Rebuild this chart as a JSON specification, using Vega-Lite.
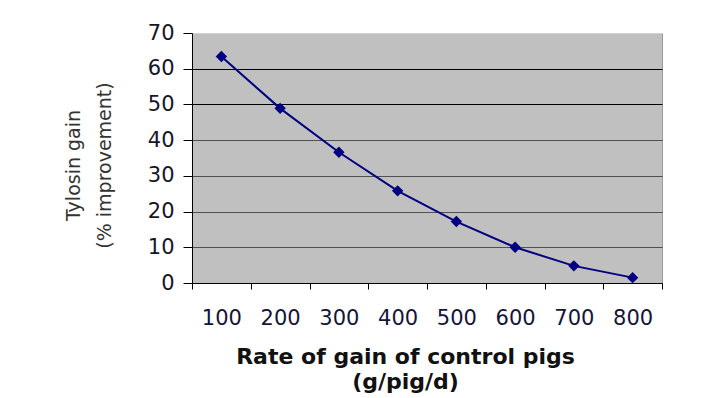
{
  "$schema": "https://vega.github.io/schema/vega-lite/v6.json",
  "width": 470,
  "height": 250,
  "autosize": {"type": "none"},
  "padding": {"left": 192, "top": 33, "right": 53, "bottom": 115},
  "background": "white",
  "data": {
    "values": [
      {"rate": "100", "gain": 63.4},
      {"rate": "200", "gain": 48.9},
      {"rate": "300", "gain": 36.6},
      {"rate": "400", "gain": 25.8},
      {"rate": "500", "gain": 17.2},
      {"rate": "600", "gain": 10.0},
      {"rate": "700", "gain": 4.8},
      {"rate": "800", "gain": 1.5}
    ]
  },
  "config": {
    "view": {"fill": "#c0c0c0", "stroke": "#9a9a9a", "strokeWidth": 1},
    "font": "DejaVu Sans"
  },
  "encoding": {
    "x": {
      "field": "rate",
      "type": "ordinal",
      "sort": null,
      "scale": {"type": "band", "paddingInner": 0, "paddingOuter": 0},
      "axis": {
        "title": ["Rate of gain of control pigs", "(g/pig/d)"],
        "titleFont": "DejaVu Sans",
        "titleFontWeight": "bold",
        "titleFontSize": 22,
        "titleLineHeight": 25,
        "titleColor": "#111",
        "titlePadding": 18,
        "titleX": 213,
        "titleAlign": "center",
        "labelFont": "DejaVu Sans",
        "labelFontSize": 21,
        "labelColor": "#15153a",
        "labelAngle": 0,
        "labelPadding": 18,
        "tickBand": "extent",
        "tickSize": 6,
        "tickColor": "#000",
        "domainColor": "#000",
        "grid": false
      }
    },
    "y": {
      "field": "gain",
      "type": "quantitative",
      "scale": {"domain": [0, 70], "nice": false},
      "axis": {
        "values": [0, 10, 20, 30, 40, 50, 60, 70],
        "title": ["Tylosin gain", "(% improvement)"],
        "titleFont": "DejaVu Sans",
        "titleFontWeight": "normal",
        "titleFontSize": 19,
        "titleLineHeight": 31,
        "titleColor": "#333",
        "titlePadding": 33,
        "titleY": 132,
        "labelFont": "DejaVu Sans",
        "labelFontSize": 21,
        "labelColor": "#15152a",
        "labelPadding": 9,
        "tickSize": 9,
        "tickColor": "#000",
        "domainColor": "#000",
        "grid": true,
        "gridColor": {
          "condition": [
            {"test": "datum.value == 70", "value": "#d0d0d0"},
            {"test": "datum.value >= 50", "value": "#000000"}
          ],
          "value": "#505050"
        },
        "gridWidth": 1
      }
    }
  },
  "layer": [
    {"mark": {"type": "line", "color": "#000080", "strokeWidth": 2}},
    {"mark": {"type": "point", "shape": "diamond", "filled": true, "color": "#000080", "size": 130, "opacity": 1}}
  ]
}
